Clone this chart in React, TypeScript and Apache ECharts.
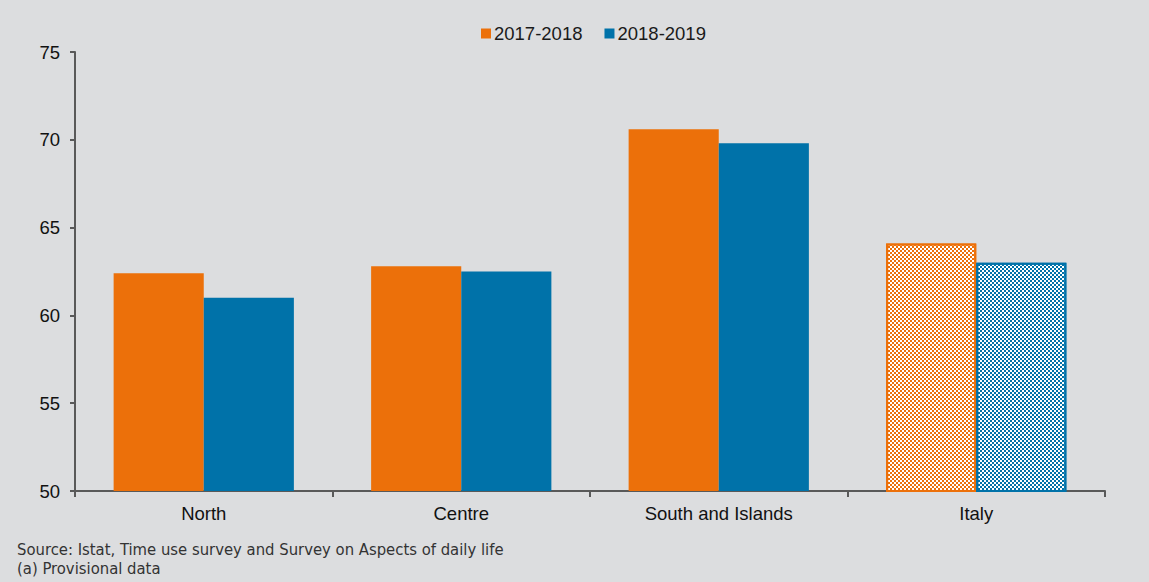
import React, { useEffect, useRef } from "react";
import * as echarts from "echarts";

const categories = ["North", "Centre", "South and Islands", "Italy"];
const series2017 = [62.4, 62.8, 70.6, 64.1];
const series2018 = [61.0, 62.5, 69.8, 63.0];
const seriesNames = ["2017-2018", "2018-2019"];
const yTicks = { min: 50, max: 75, interval: 5 };
const notes = [
  "Source: Istat, Time use survey and Survey on Aspects of daily life",
  "(a) Provisional data",
];

const ORANGE = "#ec700a";
const BLUE = "#0072a9";
const BG = "#dcdddf";
const FONT = "Arial, 'Liberation Sans', sans-serif";
const NARROW = "'Liberation Sans Narrow', 'Arial Narrow', 'DejaVu Sans Condensed', sans-serif";

function makeData(values: number[], color: string) {
  return values.map((v, i) => {
    if (categories[i] === "Italy") {
      return {
        value: v,
        itemStyle: {
          color: "#ffffff",
          borderColor: color,
          borderWidth: 2,
          decal: {
            symbol: "rect",
            symbolSize: 1,
            color: color,
            dashArrayX: [
              [2, 2],
              [0, 2, 2, 0],
            ],
            dashArrayY: [2, 0],
            rotation: 0,
          },
        },
      };
    }
    return v;
  });
}

export default function App() {
  const ref = useRef<HTMLDivElement>(null);
  useEffect(() => {
    document.body.style.margin = "0";
    const chart = echarts.init(ref.current!, undefined, { renderer: "svg" });
    chart.setOption({
      animation: false,
      backgroundColor: BG,
      textStyle: { fontFamily: FONT },
      legend: {
        top: 19,
        left: 476,
        itemWidth: 10,
        itemHeight: 10,
        itemGap: 22,
        icon: "rect",
        textStyle: { fontSize: 18.5, color: "#1a1a1a", fontFamily: FONT, padding: [0, 0, 0, -2] },
        data: seriesNames,
      },
      grid: { left: 75, right: 44, top: 52, bottom: 91, containLabel: false },
      xAxis: {
        type: "category",
        data: categories,
        axisLine: { lineStyle: { color: "#595959", width: 2 } },
        axisTick: { show: true, length: 6, lineStyle: { color: "#595959", width: 2 } },
        axisLabel: { fontSize: 18.5, color: "#111", margin: 13, fontFamily: FONT },
      },
      yAxis: {
        type: "value",
        min: yTicks.min,
        max: yTicks.max,
        interval: yTicks.interval,
        splitLine: { show: false },
        axisLine: { show: true, lineStyle: { color: "#595959", width: 2 } },
        axisTick: { show: true, length: 5, lineStyle: { color: "#595959", width: 2 } },
        axisLabel: { fontSize: 18.5, color: "#111", margin: 15, fontFamily: FONT },
      },
      series: [
        {
          name: seriesNames[0],
          type: "bar",
          data: makeData(series2017, ORANGE),
          itemStyle: { color: ORANGE },
          barGap: "0%",
          barCategoryGap: "30%",
        },
        {
          name: seriesNames[1],
          type: "bar",
          data: makeData(series2018, BLUE),
          itemStyle: { color: BLUE },
          barGap: "0%",
          barCategoryGap: "30%",
        },
      ],
      graphic: [
        {
          type: "text",
          left: 17,
          top: 541,
          style: { text: notes[0], fontSize: 16.5, fill: "#333", fontFamily: NARROW },
        },
        {
          type: "text",
          left: 17,
          top: 560,
          style: { text: notes[1], fontSize: 16.5, fill: "#333", fontFamily: NARROW },
        },
      ],
    });
    return () => chart.dispose();
  }, []);
  return <div ref={ref} style={{ width: 1149, height: 582 }} />;
}
